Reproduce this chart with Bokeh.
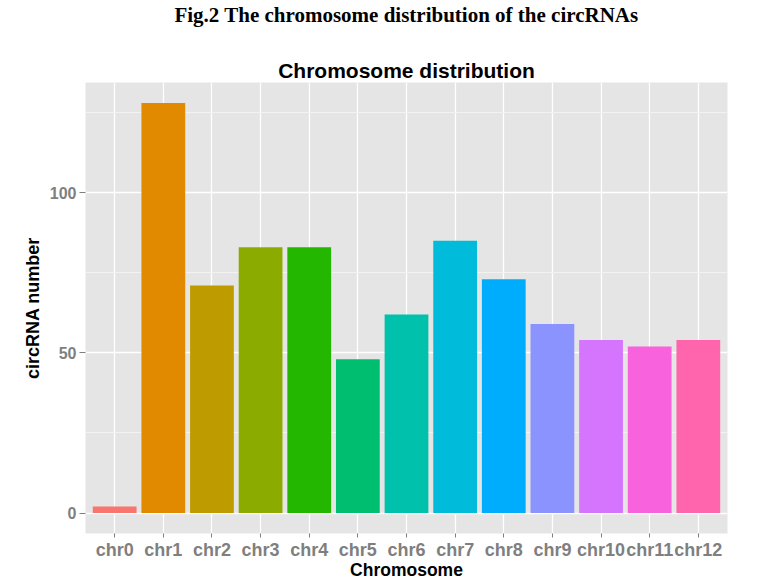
from bokeh.plotting import figure
from bokeh.models import ColumnDataSource, FactorRange, Range1d, FixedTicker, Title
from bokeh.embed import file_html
from bokeh.resources import INLINE

chromosomes = ["chr0", "chr1", "chr2", "chr3", "chr4", "chr5", "chr6",
               "chr7", "chr8", "chr9", "chr10", "chr11", "chr12"]
counts = [2, 128, 71, 83, 83, 48, 62, 85, 73, 59, 54, 52, 54]
colors = ["#F8766D", "#E18A00", "#BE9C00", "#8CAB00", "#24B700", "#00BE70",
          "#00C1AB", "#00BBDA", "#00ACFC", "#8B93FF", "#D575FE", "#F962DD", "#FF65AC"]
y_ticks = [0, 50, 100]
y_minor = [25, 75, 125]

src = ColumnDataSource(dict(chrom=chromosomes, n=counts, color=colors))

p = figure(width=741, height=582, output_backend="svg", toolbar_location=None,
           x_range=FactorRange(factors=chromosomes, range_padding=0.1,
                               range_padding_units="absolute"),
           y_range=Range1d(-6.4, 134.4),
           min_border_left=85, min_border_right=14, min_border_top=82,
           min_border_bottom=45, title=None)

p.vbar(x="chrom", top="n", width=0.9, source=src, fill_color="color",
       line_color=None)

p.background_fill_color = "#E5E5E5"
p.border_fill_color = "white"
p.outline_line_color = None

p.xgrid.grid_line_color = "white"
p.xgrid.grid_line_width = 1.3
p.ygrid.grid_line_color = "white"
p.ygrid.grid_line_width = 1.3
p.ygrid.minor_grid_line_color = "#F2F2F2"
p.ygrid.minor_grid_line_width = 1

p.yaxis.ticker = FixedTicker(ticks=y_ticks, minor_ticks=y_minor)

for ax in (p.xaxis[0], p.yaxis[0]):
    ax.axis_line_color = None
    ax.major_tick_line_color = "#7F7F7F"
    ax.major_tick_line_width = 1
    ax.major_tick_in = 0
    ax.minor_tick_line_color = None
    ax.major_label_text_color = "#7F7F7F"
    ax.major_label_text_font = "Liberation Sans"
    ax.major_label_text_font_style = "bold"
    ax.axis_label_text_font = "Liberation Sans"
    ax.axis_label_text_font_style = "bold"
    ax.axis_label_text_color = "black"

p.xaxis.major_tick_out = 4
p.xaxis.major_label_standoff = 2
p.xaxis.major_label_text_font_size = "18px"
p.xaxis.axis_label = "Chromosome"
p.xaxis.axis_label_text_font_size = "17.5px"
p.xaxis.axis_label_standoff = -3

p.yaxis.major_tick_out = 6
p.yaxis.major_label_standoff = 3
p.yaxis.major_label_text_font_size = "16px"
p.yaxis.axis_label = "circRNA number"
p.yaxis.axis_label_text_font_size = "18px"
p.yaxis.axis_label_standoff = 4

p.add_layout(Title(text="Chromosome distribution", align="center",
                   text_font="Liberation Sans", text_font_style="bold",
                   text_font_size="21px", text_color="black", standoff=1), "above")
p.add_layout(Title(text="Fig.2 The chromosome distribution of the circRNAs\n",
                   align="center", text_line_height=1.25,
                   text_font="Liberation Serif", text_font_style="bold",
                   text_font_size="21px", text_color="black", standoff=0), "above")

open("out.html", "w").write(file_html(p, INLINE))
